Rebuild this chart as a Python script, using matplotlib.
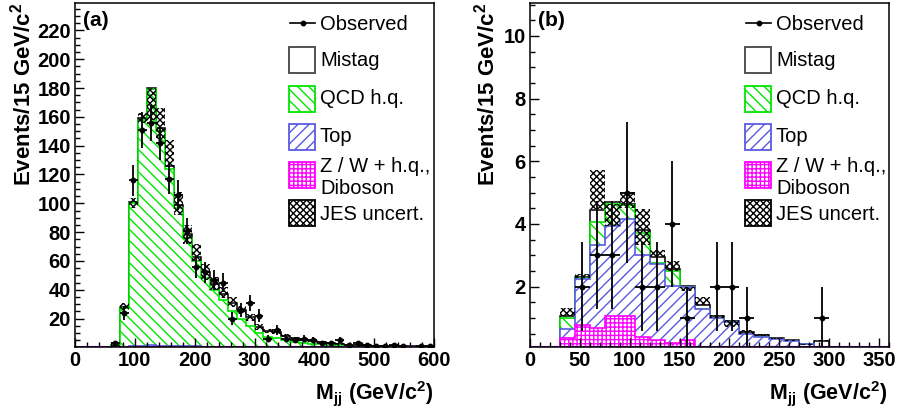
import numpy as np
import matplotlib
matplotlib.use('Agg')
import matplotlib.pyplot as plt
from matplotlib.patches import Rectangle
from matplotlib.lines import Line2D
from matplotlib.ticker import MultipleLocator

plt.rcParams['font.family'] = 'Liberation Sans'
plt.rcParams['mathtext.fontset'] = 'custom'
plt.rcParams['mathtext.rm'] = 'Liberation Sans'
plt.rcParams['mathtext.bf'] = 'Liberation Sans:bold'
plt.rcParams['mathtext.it'] = 'Liberation Sans:italic'
plt.rcParams['hatch.linewidth'] = 1.0

GREEN = '#00e600'
BLUE = '#5a5ae0'
MAGENTA = '#ff00ff'

H_QCD = '\\\\\\'
H_TOP = '///'
H_ZW = '++++'
H_JES = 'xxxxx'

BIN = 15

# ---- panel (a): bins of 15 GeV from 60 to 600 ----
edges_a = np.arange(60, 600 + BIN, BIN)
zw_a = [0, 0.1, 0.3, 0.4, 0.4, 0.4, 0.3, 0.3, 0.2, 0.2, 0.2, 0.1, 0.1, 0.1, 0.1, 0.1, 0.1, 0.1,
        0, 0, 0, 0, 0, 0, 0, 0, 0, 0, 0, 0, 0, 0, 0, 0, 0, 0]
top_a = [0, 0.2, 0.6, 0.9, 1.0, 0.9, 0.8, 0.7, 0.6, 0.5, 0.4, 0.4, 0.3, 0.3, 0.2, 0.2, 0.2, 0.1,
         0.1, 0.1, 0.1, 0.1, 0, 0, 0, 0, 0, 0, 0, 0, 0, 0, 0, 0, 0, 0]
qcd_a = [1.5, 27.2, 99.1, 156.2, 178.1, 148.7, 122.9, 96.0, 75.2, 59.3, 47.4, 39.5, 32.6, 24.6, 19.7, 14.7, 9.7, 7.3,
         6.4, 4.9, 3.9, 3.1, 2.6, 2.1, 1.7, 1.4, 1.1, 0.9, 0.8, 0.6, 0.5, 0.45, 0.4, 0.3, 0.25, 0.2]
mistag_a = [0.5, 0.5, 1, 1.5, 0.5, 2, 2, 2, 3, 3, 4, 4, 4, 6, 6, 6, 4, 4,
            4, 3, 2.5, 2.2, 1.9, 1.6, 1.3, 1.1, 0.9, 0.8, 0.6, 0.6, 0.5, 0.45, 0.4, 0.4, 0.35, 0.3]
jes_lo_a = [1, 26, 97, 156, 158, 143, 125, 92, 72, 60, 47, 40, 34, 28, 23, 18, 12, 10,
            9, 7, 5.5, 4.5, 3.8, 3, 2.5, 2, 1.6, 1.3, 1.1, 0.9, 0.8, 0.7, 0.6, 0.5, 0.45, 0.4]
jes_hi_a = [4, 31, 104, 163, 180, 166, 144, 108, 85, 72, 58, 49, 42, 35, 29, 23, 16, 13,
            12, 9, 7.5, 6.5, 5.5, 4.5, 3.8, 3.2, 2.6, 2.2, 1.9, 1.6, 1.4, 1.2, 1.1, 0.9, 0.8, 0.7]
obs_a = [3, 24, 116, 151, 156, 142, 117, 106, 81, 56, 52, 47, 45, 20, 26, 31, 22, 6,
         12, 6, 5, 6, 5, 3, 3, 5, 2, 3, 2, 1, 1, 2, 1, 0, 1, 1]

# ---- panel (b): bins of 15 GeV from 30 to 315 ----
edges_b = np.arange(30, 315 + BIN, BIN)
zw_b = [0.36, 0.78, 0.67, 1.05, 1.05, 0.40, 0.30, 0.21, 0.30, 0, 0, 0, 0, 0, 0, 0, 0, 0, 0]
top_b = [0.27, 1.47, 2.67, 2.88, 3.09, 2.60, 2.41, 1.81, 1.70, 1.27, 1.0, 0.87, 0.48, 0.40, 0.34, 0.27, 0.16, 0.08, 0.04]
qcd_b = [0.36, 0.03, 0.73, 0.72, 0.45, 0.72, 0.05, 0.48, 0, 0, 0, 0, 0, 0, 0, 0, 0, 0, 0]
mistag_b = [0.06, 0.02, 0.37, 0.05, 0.05, 0.08, 0.19, 0.05, 0.02, 0.13, 0.06, 0.03, 0.07, 0.05, 0.02, 0.01, 0.02, 0.19, 0.02]
jes_lo_b = [1.06, 2.28, 4.46, 3.93, 4.51, 3.34, 2.95, 2.50, 1.86, 1.40, 1.00, 0.72, 0.50, 0.42, 0.33, 0.25, 0.14, 0.25, 0.04]
jes_hi_b = [1.30, 2.39, 5.73, 4.65, 5.01, 4.48, 3.16, 2.80, 2.00, 1.65, 1.10, 0.92, 0.60, 0.47, 0.37, 0.29, 0.18, 0.30, 0.06]
obs_b = [0, 2, 3, 3, 5, 2, 2, 4, 1, 0, 2, 2, 1, 0, 0, 0, 0, 1, 0]

xticks_a = [0, 100, 200, 300, 400, 500, 600]
yticks_a = [20, 40, 60, 80, 100, 120, 140, 160, 180, 200, 220]
xticks_b = [0, 50, 100, 150, 200, 250, 300, 350]
yticks_b = [2, 4, 6, 8, 10]

legend_labels = ['Observed', 'Mistag', 'QCD h.q.', 'Top', 'Z / W + h.q.,\nDiboson', 'JES uncert.']

W, H = 898, 417


def draw_panel(ax, edges, zw, top, qcd, mistag, jes_lo, jes_hi, obs):
    c_zw = np.array(zw, float)
    c_top = c_zw + np.array(top)
    c_qcd = c_top + np.array(qcd)
    c_tot = c_qcd + np.array(mistag)

    ax.stairs(c_tot, edges, fill=True, facecolor='white', edgecolor='none')
    ax.stairs(c_tot, edges, color='black', lw=1.1)
    ax.stairs(c_qcd, edges, fill=True, facecolor='white', edgecolor=GREEN, hatch=H_QCD, lw=0)
    ax.stairs(c_qcd, edges, color=GREEN, lw=1.2)
    ax.stairs(c_top, edges, fill=True, facecolor='white', edgecolor=BLUE, hatch=H_TOP, lw=0)
    ax.stairs(c_top, edges, color=BLUE, lw=1.2)
    ax.stairs(c_zw, edges, fill=True, facecolor='white', edgecolor=MAGENTA, hatch=H_ZW, lw=0)
    ax.stairs(c_zw, edges, color=MAGENTA, lw=1.2)

    width = np.diff(edges)
    lo = np.array(jes_lo)
    hi = np.array(jes_hi)
    ax.bar(edges[:-1], hi - lo, width, bottom=lo, align='edge',
           facecolor='none', edgecolor='black', hatch=H_JES, lw=0)

    centers = edges[:-1] + width / 2
    obs = np.array(obs, float)
    m = obs > 0
    ax.errorbar(centers[m], obs[m], yerr=np.sqrt(obs[m]), xerr=width[m] / 2,
                fmt='o', color='black', ms=3.2, lw=1.3, capsize=0, zorder=5)


def style_axes(ax, xticks, yticks, xminor, yminor, xlim, ylim):
    ax.set_xlim(*xlim)
    ax.set_ylim(*ylim)
    ax.axhline(ylim[0], color='#8000c0', lw=1.5, zorder=4)
    ax.set_xticks(xticks)
    ax.set_xticklabels([str(t) for t in xticks], fontsize=14.5, fontweight='bold')
    ax.set_yticks(yticks)
    ax.set_yticklabels([str(t) for t in yticks], fontsize=14.5, fontweight='bold')
    ax.xaxis.set_minor_locator(MultipleLocator(xminor))
    ax.yaxis.set_minor_locator(MultipleLocator(yminor))
    ax.tick_params(which='both', direction='in', top=False, right=False, width=1)
    ax.tick_params(which='major', length=6.5, pad=3)
    ax.tick_params(which='minor', length=3.5)
    for s in ax.spines.values():
        s.set_linewidth(1.1)
        s.set_zorder(6)


def draw_legend(fig, x0):
    fx = lambda px: px / W
    fy = lambda py: 1 - py / H
    tx = x0 + 31
    # observed
    fig.add_artist(Line2D([fx(x0 + 1), fx(x0 + 26)], [fy(23), fy(23)], color='black', lw=1.2,
                          transform=fig.transFigure))
    fig.add_artist(Line2D([fx(x0 + 13.5)], [fy(23)], color='black', marker='o', ms=3.2,
                          transform=fig.transFigure))
    fig.text(fx(tx), fy(24), legend_labels[0], fontsize=14.5, va='center', ha='left')

    boxes = [(47, 'white', '#444444', None, 60, legend_labels[1]),
             (86, 'white', GREEN, H_QCD, 99, legend_labels[2]),
             (124, 'white', BLUE, H_TOP, 137, legend_labels[3]),
             (162, 'white', MAGENTA, H_ZW, 177.5, legend_labels[4]),
             (200, 'white', 'black', H_JES, 214, legend_labels[5])]
    for top, fc, ec, hatch, ty, lab in boxes:
        fig.add_artist(Rectangle((fx(x0), fy(top + 26)), 26 / W, 26 / H, facecolor=fc,
                                 edgecolor=ec, hatch=hatch, lw=1.3, transform=fig.transFigure))
        fig.text(fx(tx), fy(ty), lab, fontsize=14.5, va='center', ha='left', linespacing=1.2)


fig = plt.figure(figsize=(W / 100, H / 100), dpi=100)
ax_a = fig.add_axes([75 / W, 1 - 347 / H, 359 / W, 344 / H])
ax_b = fig.add_axes([530 / W, 1 - 347 / H, 359 / W, 344 / H])

draw_panel(ax_a, edges_a, zw_a, top_a, qcd_a, mistag_a, jes_lo_a, jes_hi_a, obs_a)
style_axes(ax_a, xticks_a, yticks_a, 20, 5, (0, 600), (0.3, 239))

draw_panel(ax_b, edges_b, zw_b, top_b, qcd_b, mistag_b, jes_lo_b, jes_hi_b, obs_b)
style_axes(ax_b, xticks_b, yticks_b, 10, 0.5, (0, 360), (0.07, 11.05))

draw_legend(fig, 289)
draw_legend(fig, 745)

ylab = r'Events/15 GeV/c$^{\mathbf{2}}$'
xlab = r'$\mathbf{M_{jj}}$ (GeV/c$^{\mathbf{2}}$)'
fig.text(23 / W, 1 - 3 / H, ylab, rotation=90, ha='center', va='top', fontsize=16, fontweight='bold')
fig.text(487 / W, 1 - 3 / H, ylab, rotation=90, ha='center', va='top', fontsize=16, fontweight='bold')
fig.text(433 / W, 1 - 393 / H, xlab, ha='right', va='center', fontsize=15.5, fontweight='bold')
fig.text(887 / W, 1 - 393 / H, xlab, ha='right', va='center', fontsize=15.5, fontweight='bold')
fig.text(83 / W, 1 - 20 / H, '(a)', ha='left', va='center', fontsize=15, fontweight='bold')
fig.text(538 / W, 1 - 20 / H, '(b)', ha='left', va='center', fontsize=15, fontweight='bold')

fig.savefig('out.png', dpi=100)
